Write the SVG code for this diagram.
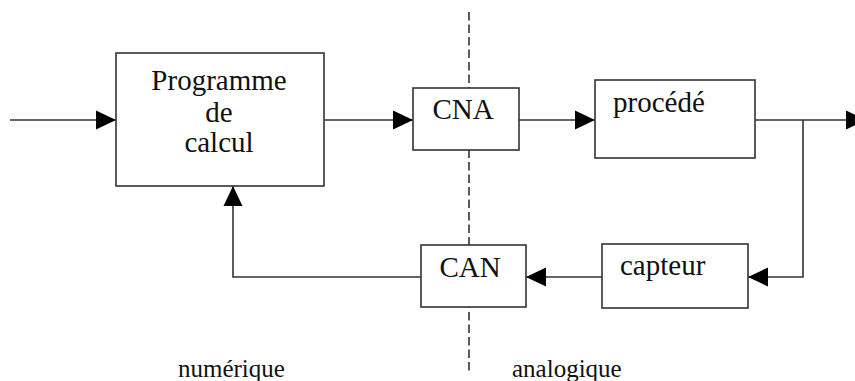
<svg xmlns="http://www.w3.org/2000/svg" width="855" height="381" viewBox="0 0 855 381">
  <defs>
    <style>
      .box { fill: #ffffff; stroke: #333333; stroke-width: 1.6; }
      .wire { fill: none; stroke: #333333; stroke-width: 1.6; }
      .lbl { font-family: "Liberation Serif", "Times New Roman", serif; font-size: 29px; fill: #111111; }
      .zone { font-family: "Liberation Serif", "Times New Roman", serif; font-size: 25px; fill: #111111; }
      .sep { fill: none; stroke: #333333; stroke-width: 1.6; stroke-dasharray: 8.5 4; }
    </style>
    <marker id="arrow" markerUnits="userSpaceOnUse" markerWidth="20" markerHeight="20" viewBox="0 0 19 18" refX="19" refY="9" orient="auto">
      <path d="M0,0 L19,9 L0,18 Z" fill="#000000"/>
    </marker>
  </defs>

  <rect width="855" height="381" fill="#ffffff"/>

  <!-- numeric / analog boundary -->
  <line class="sep" x1="469" y1="12" x2="469" y2="374"/>

  <g id="connectors">
    <line class="wire" x1="10" y1="120" x2="116" y2="120" marker-end="url(#arrow)"/>
    <line class="wire" x1="324" y1="120" x2="413" y2="120" marker-end="url(#arrow)"/>
    <line class="wire" x1="519" y1="120" x2="595" y2="120" marker-end="url(#arrow)"/>
    <line class="wire" x1="755" y1="120" x2="866" y2="120" marker-end="url(#arrow)"/>
    <polyline class="wire" points="803,120 803,277 748,277" marker-end="url(#arrow)"/>
    <line class="wire" x1="602" y1="277" x2="526" y2="277" marker-end="url(#arrow)"/>
    <polyline class="wire" points="421,277 233,277 233,186" marker-end="url(#arrow)"/>
  </g>

  <g id="programme">
    <rect class="box" x="116" y="53" width="208" height="133"/>
    <text class="lbl" x="219" y="90" text-anchor="middle">Programme</text>
    <text class="lbl" x="219" y="122" text-anchor="middle">de</text>
    <text class="lbl" x="219" y="152" text-anchor="middle">calcul</text>
  </g>

  <g id="cna">
    <rect class="box" x="413" y="88" width="106" height="62"/>
    <text class="lbl" x="463" y="119" text-anchor="middle">CNA</text>
  </g>

  <g id="procede">
    <rect class="box" x="595" y="80" width="160" height="78"/>
    <text class="lbl" x="613" y="112">procédé</text>
  </g>

  <g id="capteur">
    <rect class="box" x="602" y="244" width="146" height="64"/>
    <text class="lbl" x="620" y="275">capteur</text>
  </g>

  <g id="can">
    <rect class="box" x="421" y="245" width="105" height="62"/>
    <text class="lbl" x="470" y="277" text-anchor="middle">CAN</text>
  </g>

  <text class="zone" x="178" y="377">numérique</text>
  <text class="zone" x="512" y="377">analogique</text>
</svg>
